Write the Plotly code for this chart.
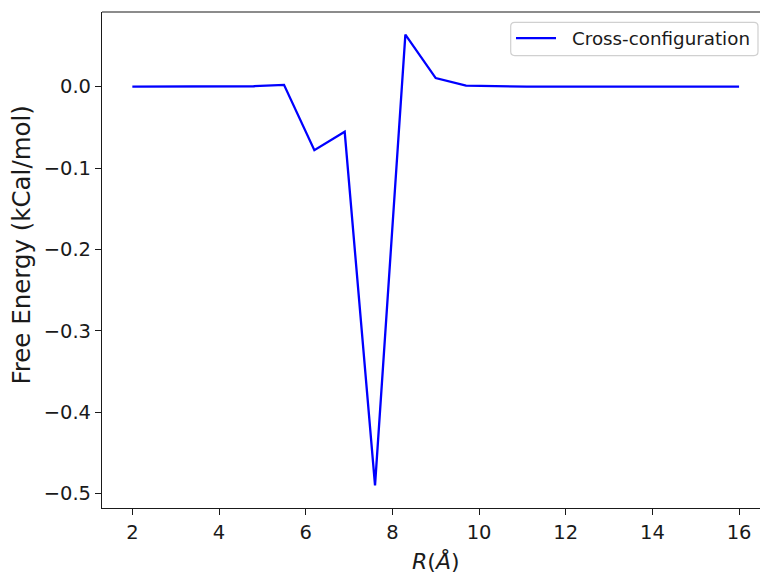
import plotly.graph_objects as go

# Free energy profile along the separation coordinate R (Å)
r_values = [2.0, 2.7, 3.4, 4.1, 4.8, 5.5, 6.2, 6.9, 7.6, 8.3, 9.0,
            9.7, 10.4, 11.1, 11.8, 12.5, 13.2, 13.9, 14.6, 15.3, 16.0]
free_energy = [0.0, 0.0, 0.0, 0.0, 0.0005, 0.0022, -0.078, -0.0555, -0.49, 0.064, 0.0105,
               0.0012, 0.0003, 0.0, 0.0, 0.0, 0.0, 0.0, 0.0, 0.0, 0.0]
series_name = "Cross-configuration"

x_ticks = [2, 4, 6, 8, 10, 12, 14, 16]
y_ticks = [0.0, -0.1, -0.2, -0.3, -0.4, -0.5]

FONT = "DejaVu Sans"
INK = "#1a1a1a"
LINE_BLUE = "#0000ff"
W, H = 760, 574
L, T, B = 102, 12.4, 65.6
x_range = [1.3, 16.483]
y_range = [-0.5177, 0.0917]


def px(x):
    """pixel column -> paper x"""
    return (x - L) / (W - L)


def py(y):
    """pixel row -> paper y"""
    return (H - B - y) / (H - B - T)


fig = go.Figure()
fig.add_trace(go.Scatter(
    x=r_values, y=free_energy, mode="lines", name=series_name,
    line=dict(color=LINE_BLUE, width=2.3), showlegend=False,
))

axis_common = dict(
    showgrid=False, zeroline=False, showline=True, linecolor=INK, linewidth=1.2,
    ticks="outside", ticklen=6, tickwidth=1.2, tickcolor=INK,
    tickfont=dict(family=FONT, size=19.5, color=INK),
)
fig.update_xaxes(range=x_range, tickvals=x_ticks, ticktext=[str(v) for v in x_ticks], **axis_common)
fig.update_yaxes(range=y_range, tickvals=y_ticks,
                 ticktext=[("−" if v < 0 else "") + f"{abs(v):.1f}" for v in y_ticks], **axis_common)

# top spine
fig.add_shape(type="line", xref="paper", yref="paper", x0=0, x1=1, y0=1, y1=1,
              line=dict(color=INK, width=1.2))

# axis titles
fig.add_annotation(text="<i>R</i>(<i>Å</i>)", xref="paper", yref="paper",
                   x=px(435.5), y=py(561), yanchor="middle", showarrow=False,
                   font=dict(family=FONT, size=22, color=INK))
fig.add_annotation(text="Free Energy (kCal/mol)", xref="paper", yref="paper",
                   x=px(22), y=py(245), xanchor="center", yanchor="middle",
                   textangle=-90, showarrow=False,
                   font=dict(family=FONT, size=24.5, color=INK))

# legend box with rounded corners, sample line and label
bx0, bx1, by0, by1, rad = 510.7, 758, 22.7, 56, 4
path = (
    f"M {px(bx0 + rad)},{py(by0)} L {px(bx1 - rad)},{py(by0)} "
    f"Q {px(bx1)},{py(by0)} {px(bx1)},{py(by0 + rad)} "
    f"L {px(bx1)},{py(by1 - rad)} Q {px(bx1)},{py(by1)} {px(bx1 - rad)},{py(by1)} "
    f"L {px(bx0 + rad)},{py(by1)} Q {px(bx0)},{py(by1)} {px(bx0)},{py(by1 - rad)} "
    f"L {px(bx0)},{py(by0 + rad)} Q {px(bx0)},{py(by0)} {px(bx0 + rad)},{py(by0)} Z"
)
fig.add_shape(type="path", xref="paper", yref="paper", path=path,
              line=dict(color="#d0d0d0", width=1.2), fillcolor="rgba(255,255,255,0.8)")
fig.add_shape(type="line", xref="paper", yref="paper",
              x0=px(516), x1=px(556), y0=py(38.5), y1=py(38.5),
              line=dict(color=LINE_BLUE, width=2.3))
fig.add_annotation(text=series_name, xref="paper", yref="paper",
                   x=px(569.5), y=py(39), xanchor="left", yanchor="middle",
                   showarrow=False, font=dict(family=FONT, size=18.3, color=INK))

fig.update_layout(
    width=W, height=H, margin=dict(l=L, r=0, t=T, b=B),
    plot_bgcolor="white", paper_bgcolor="white",
    showlegend=False,
)

fig.write_html("out.html")
